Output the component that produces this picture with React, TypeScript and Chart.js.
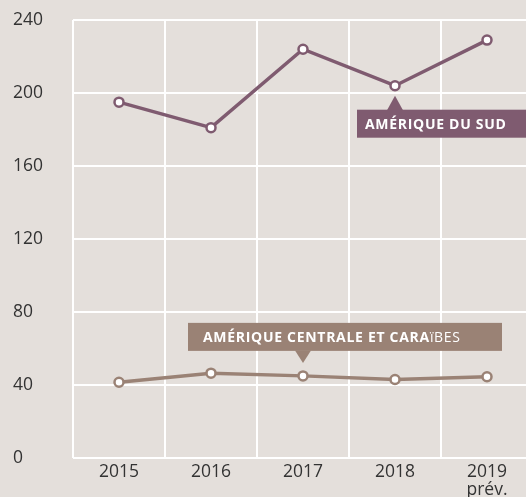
import React, { useEffect, useRef } from "react";
import { Chart, registerables } from "chart.js";
Chart.register(...registerables);

const categories: string[][] = [["2015"], ["2016"], ["2017"], ["2018"], ["2019", "prév."]];
const sudValues = [195, 181, 224, 204, 229];
const centralValues = [41.5, 46.5, 45, 43, 44.5];
const yMin = 0;
const yMax = 240;
const yStep = 40;
const sudLabel = "AMÉRIQUE DU SUD";
const centralLabelBold = "AMÉRIQUE CENTRALE ET CARA";
const centralLabelLight = "ïBES";

const BG = "#e4dfdb";
const SUD = "#7f5b70";
const CENTRAL = "#9a8275";
const FONT = "'Open Sans', sans-serif";

const annotations = {
  id: "annotations",
  afterDatasetsDraw(chart: any) {
    const ctx = chart.ctx;
    ctx.save();
    // Sud label under 2018 point
    const ps = chart.getDatasetMeta(0).data[3];
    {
      const boxTop = ps.y + 24;
      const boxLeft = ps.x - 38;
      const boxW = 180;
      const boxH = 28;
      ctx.fillStyle = SUD;
      ctx.fillRect(boxLeft, boxTop, boxW, boxH);
      ctx.beginPath();
      ctx.moveTo(ps.x - 8, boxTop + 0.5);
      ctx.lineTo(ps.x, ps.y + 10);
      ctx.lineTo(ps.x + 8, boxTop + 0.5);
      ctx.closePath();
      ctx.fill();
      ctx.fillStyle = "#ffffff";
      ctx.font = `bold 14px ${FONT}`;
      (ctx as any).letterSpacing = "0.7px";
      ctx.textBaseline = "middle";
      ctx.textAlign = "left";
      ctx.fillText(sudLabel, boxLeft + 8, boxTop + boxH / 2 + 1);
    }
    // Central label above 2017 point
    const pc = chart.getDatasetMeta(1).data[2];
    {
      const boxBottom = pc.y - 25;
      const boxH = 28;
      const boxTop = boxBottom - boxH;
      const boxLeft = pc.x - 115;
      const boxW = 314;
      ctx.fillStyle = CENTRAL;
      ctx.fillRect(boxLeft, boxTop, boxW, boxH);
      ctx.beginPath();
      ctx.moveTo(pc.x - 8, boxBottom - 0.5);
      ctx.lineTo(pc.x, pc.y - 13);
      ctx.lineTo(pc.x + 8, boxBottom - 0.5);
      ctx.closePath();
      ctx.fill();
      ctx.fillStyle = "#ffffff";
      ctx.textBaseline = "middle";
      ctx.textAlign = "left";
      ctx.font = `bold 14px ${FONT}`;
      (ctx as any).letterSpacing = "0.7px";
      const tx = boxLeft + 15;
      ctx.fillText(centralLabelBold, tx, boxTop + boxH / 2 + 1);
      const w = ctx.measureText(centralLabelBold).width;
      ctx.font = `14px ${FONT}`;
      ctx.fillText(centralLabelLight, tx + w, boxTop + boxH / 2 + 1);
    }
    ctx.restore();
  },
};

export default function App() {
  const ref = useRef<HTMLCanvasElement | null>(null);
  useEffect(() => {
    if (!ref.current) return;
    const chart = new Chart(ref.current, {
      type: "line",
      data: {
        labels: categories as any,
        datasets: [
          {
            data: sudValues,
            borderColor: SUD,
            borderWidth: 3.5,
            pointRadius: 4.5,
            pointBorderWidth: 2.5,
            pointBackgroundColor: "#ffffff",
            pointBorderColor: SUD,
            tension: 0,
          },
          {
            data: centralValues,
            borderColor: CENTRAL,
            borderWidth: 3.5,
            pointRadius: 4.5,
            pointBorderWidth: 2.5,
            pointBackgroundColor: "#ffffff",
            pointBorderColor: CENTRAL,
            tension: 0,
          },
        ],
      },
      options: {
        responsive: false,
        animation: false,
        events: [],
        layout: { padding: { left: 13, top: 20, right: 7, bottom: 0 } },
        plugins: { legend: { display: false }, tooltip: { enabled: false } },
        scales: {
          x: {
            offset: true,
            grid: { color: "#ffffff", lineWidth: 2, drawTicks: false, offset: true },
            border: { display: false },
            ticks: {
              color: "#333333",
              padding: 5,
              font: { family: FONT, size: 17.5, lineHeight: 1.02 },
              maxRotation: 0,
              autoSkip: false,
            },
            afterFit(scale: any) {
              scale.height = 39;
            },
          },
          y: {
            min: yMin,
            max: yMax,
            grid: { color: "#ffffff", lineWidth: 2, drawTicks: false },
            border: { display: false },
            ticks: {
              stepSize: yStep,
              color: "#333333",
              crossAlign: "far",
              padding: 0,
              font: { family: FONT, size: 17.5 },
            },
            afterFit(scale: any) {
              scale.width = 60;
            },
          },
        },
      },
      plugins: [annotations],
    });
    return () => chart.destroy();
  }, []);
  return (
    <div
      style={{
        position: "fixed",
        left: 0,
        top: 0,
        width: 526,
        height: 497,
        overflow: "hidden",
        background: BG,
      }}
    >
      <canvas ref={ref} width={540} height={497} style={{ display: "block" }} />
    </div>
  );
}
